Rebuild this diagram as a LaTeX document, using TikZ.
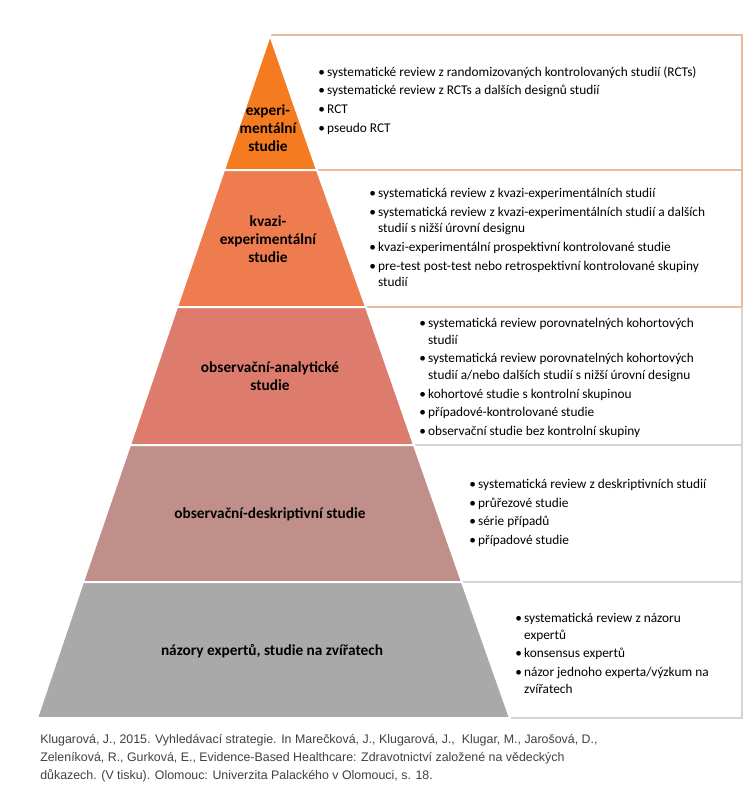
\documentclass[tikz,border=0pt]{standalone}
\usepackage{fontspec}
\setmainfont{Carlito}
\newfontfamily\citefont{Liberation Sans}
\definecolor{lvlA}{HTML}{F47B20}
\definecolor{lvlB}{HTML}{EE7C4E}
\definecolor{lvlC}{HTML}{DD7C6C}
\definecolor{lvlD}{HTML}{C08F89}
\definecolor{lvlE}{HTML}{A9A9A9}
\definecolor{boxline}{HTML}{E9B9A0}
\definecolor{boxgray}{HTML}{D4D4D4}
\newcommand{\bl}{\textbullet\,}
\newcommand{\nb}{\phantom{\textbullet\,}}
\begin{document}
\begin{tikzpicture}[x=0.75pt,y=-0.75pt]
    \tikzstyle{level}=[draw=white, line width=1.5pt]
    \tikzstyle{lvltext}=[font=\fontsize{11.5}{13.5}\selectfont\bfseries, align=center]
    \tikzstyle{items}=[anchor=north west, align=left, inner sep=0pt, font=\fontsize{10}{12.5}\selectfont]
    \useasboundingbox (0,0) rectangle (754,800);
    % right-hand boxes
    \draw[boxline, line width=1pt] (270,35) -- (742,35) -- (742,307);
    \draw[boxline, line width=1pt] (317,170) -- (742,170);
    \draw[boxline, line width=1pt] (366,307) -- (742,307);
    \draw[boxgray, line width=1pt] (742,307) -- (742,718) -- (510,718);
    \draw[boxgray, line width=1pt] (414,445) -- (742,445);
    \draw[boxgray, line width=1pt] (462,582) -- (742,582);
    % pyramid levels
    \fill[lvlA, level] (270,35) -- (317,170) -- (224,170) -- cycle;
    \fill[lvlB, level] (224,170) -- (317,170) -- (366,307) -- (177,307) -- cycle;
    \fill[lvlC, level] (177,307) -- (366,307) -- (414,445) -- (130,445) -- cycle;
    \fill[lvlD, level] (130,445) -- (414,445) -- (462,582) -- (83,582) -- cycle;
    \fill[lvlE, level] (83,582) -- (462,582) -- (510,718) -- (37,718) -- cycle;
    % level labels
    \node[lvltext] (expt) at (268,128) {experi-\\mentální\\studie};
    \node[lvltext] (kvazi) at (268,239) {kvazi-\\experimentální\\studie};
    \node[lvltext] (oban) at (270,376) {observační-analytické\\studie};
    \node[lvltext] (obde) at (270,514) {observační-deskriptivní studie};
    \node[lvltext] (expr) at (272,651) {názory expertů, studie na zvířatech};
    % lists
    \node[items] (listA) at (318,66) {\bl systematické review z randomizovaných kontrolovaných studií (RCTs)\\[1.5pt]
        \bl systematické review z RCTs a dalších designů studií\\[1.5pt]
        \bl RCT\\[1.5pt]
        \bl pseudo RCT};
    \node[items] (listB) at (369,188) {\bl systematická review z kvazi-experimentálních studií\\[1.5pt]
        \bl systematická review z kvazi-experimentálních studií a dalších\\
        \nb studií s nižší úrovní designu\\[1.5pt]
        \bl kvazi-experimentální prospektivní kontrolované studie\\[1.5pt]
        \bl pre-test post-test nebo retrospektivní kontrolované skupiny\\
        \nb studií};
    \node[items] (listC) at (419,318) {\bl systematická review porovnatelných kohortových\\
        \nb studií\\[1.5pt]
        \bl systematická review porovnatelných kohortových\\
        \nb studií a/nebo dalších studií s nižší úrovní designu\\[1.5pt]
        \bl kohortové studie s kontrolní skupinou\\[1.5pt]
        \bl případové-kontrolované studie\\[1.5pt]
        \bl observační studie bez kontrolní skupiny};
    \node[items] (listD) at (469,479) {\bl systematická review z deskriptivních studií\\[1.5pt]
        \bl průřezové studie\\[1.5pt]
        \bl série případů\\[1.5pt]
        \bl případové studie};
    \node[items] (listE) at (515,613) {\bl systematická review z názoru\\
        \nb expertů\\[1.5pt]
        \bl konsensus expertů\\[1.5pt]
        \bl názor jednoho experta/výzkum na\\
        \nb zvířatech};
    % source
    \node[anchor=north west, align=left, inner sep=0pt, text=black!75,
        font=\citefont\fontsize{9.3}{13.5}\selectfont] (cite) at (40,734)
        {Klugarová, J., 2015. Vyhledávací strategie. In Marečková, J., Klugarová, J.,~ Klugar, M., Jarošová, D.,\\
         Zeleníková, R., Gurková, E., Evidence-Based Healthcare: Zdravotnictví založené na vědeckých\\
         důkazech. (V tisku). Olomouc: Univerzita Palackého v Olomouci, s. 18.};
\end{tikzpicture}
\end{document}
